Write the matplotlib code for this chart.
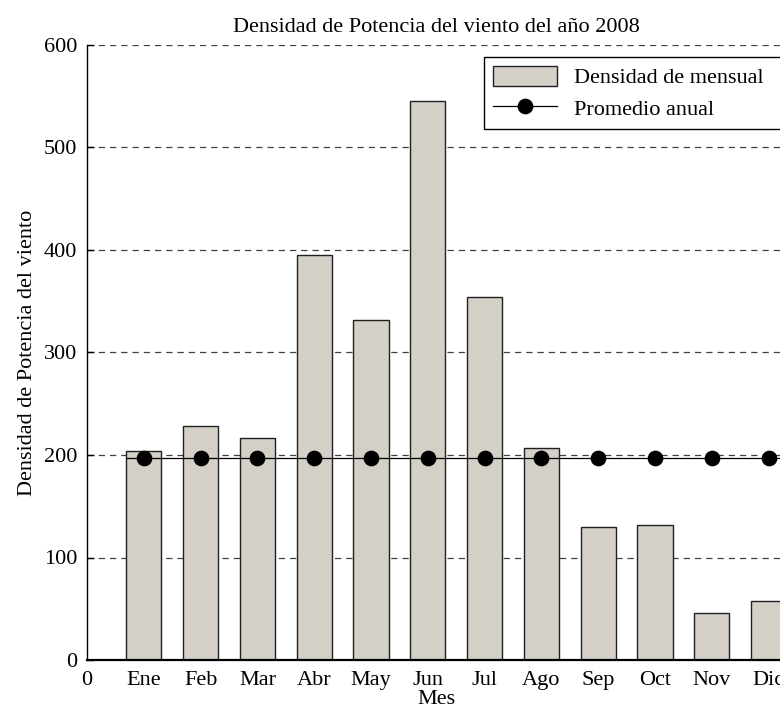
import matplotlib
matplotlib.use("Agg")
import matplotlib.pyplot as plt
import numpy as np

plt.rcParams["font.family"] = ["Liberation Serif", "DejaVu Serif"]
plt.rcParams["font.size"] = 16

MESES = ["Ene", "Feb", "Mar", "Abr", "May", "Jun", "Jul", "Ago", "Sep", "Oct", "Nov", "Dic"]
DENSIDAD = [204, 228, 217, 395, 332, 545, 354, 207, 130, 132, 46, 58]
PROMEDIO = 197
YTICKS = [0, 100, 200, 300, 400, 500, 600]

BAR_W = 0.62
W, H = 780, 719

fig = plt.figure(figsize=(W / 100, H / 100), dpi=100)
# axes placed in pixels (left, bottom, width, height)
ax = fig.add_axes([87 / W, 1 - 660 / H, (786 - 87) / W, (660 - 45) / H])

x = np.arange(1, len(MESES) + 1)
bars = ax.bar(x, DENSIDAD, width=BAR_W, color="#d4d0c8", edgecolor="#202020",
              linewidth=1.0, zorder=2, label="Densidad de mensual")
ax.hlines(PROMEDIO, x[0] - BAR_W / 2, 13, color="black", linewidth=0.9, zorder=3)
ax.plot(x, [PROMEDIO] * len(x), "o", color="black", markersize=10.3, zorder=4)
prom_handle = plt.Line2D([], [], color="black", linewidth=0.9, marker="o",
                         markersize=10.3, label="Promedio anual")

ax.set_xlim(0, (786 - 87) / 56.8)
ax.set_ylim(0, 600)
ax.set_xticks(np.arange(0, 13))
ax.set_xticklabels(["0"] + MESES)
ax.set_yticks(YTICKS)
ax.tick_params(axis="x", length=0, pad=8)
ax.tick_params(axis="y", direction="in", length=5, width=1, pad=7)

for s in ["top", "right"]:
    ax.spines[s].set_visible(False)
ax.spines["left"].set_linewidth(1.0)
ax.spines["bottom"].set_linewidth(1.6)
ax.spines["bottom"].set_zorder(5)

for yv in YTICKS[1:]:
    ax.axhline(yv, color="#404040", linewidth=0.9, linestyle=(0, (5, 4)), zorder=1)

ax.set_title("Densidad de Potencia del viento del año 2008", fontsize=16, pad=9)
ax.set_xlabel("Mes", labelpad=0)
ax.set_ylabel("Densidad de Potencia del viento", labelpad=5)

# legend box runs past the right edge of the picture, as in the reference
leg = ax.legend(handles=[bars, prom_handle], loc="upper left", mode="expand",
                bbox_to_anchor=(484 / W, 1 - 128 / H, 320 / W, 71 / H),
                bbox_transform=fig.transFigure,
                fancybox=False, framealpha=1, edgecolor="black", handlelength=2.9,
                handleheight=1.0, handletextpad=0.75, borderpad=0.4, labelspacing=0.4,
                borderaxespad=0)
leg.get_frame().set_linewidth(1.0)

fig.savefig("out.png", dpi=100)
